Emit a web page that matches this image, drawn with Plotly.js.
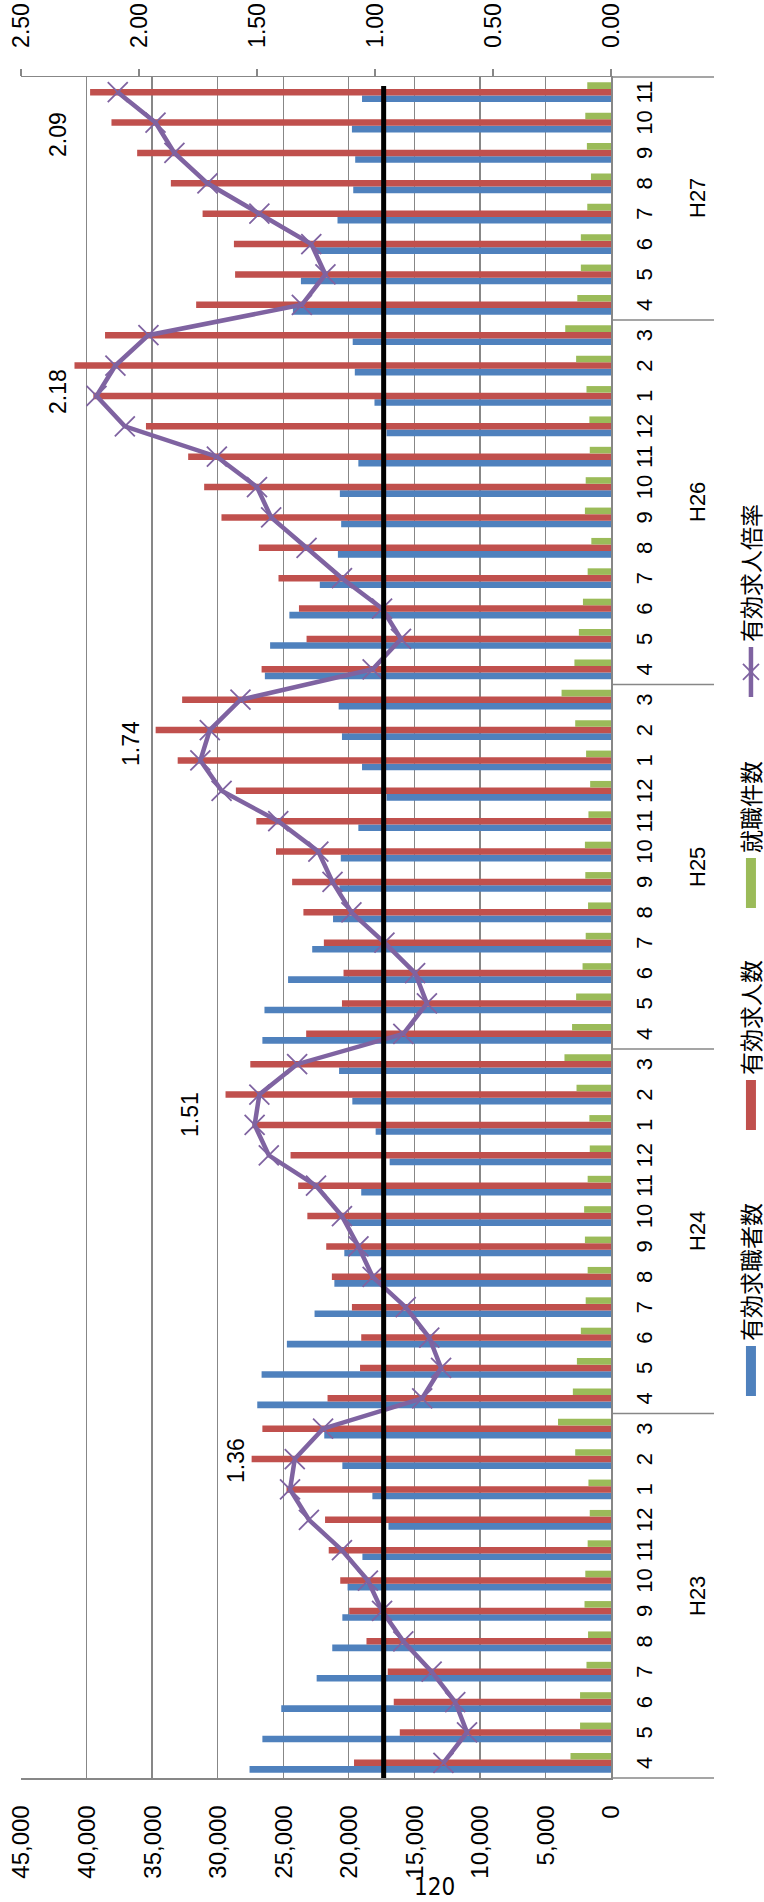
<!DOCTYPE html>
<html>
<head>
<meta charset="utf-8">
<script src="https://cdn.plot.ly/plotly-3.0.1.min.js"></script>
<style>
html,body{margin:0;padding:0;width:764px;height:1902px;overflow:hidden;background:#fff;}
#wrap{position:absolute;left:0;top:1902px;width:1902px;height:764px;transform-origin:0 0;transform:rotate(-90deg);}
#chart{width:1902px;height:764px;}
#page{position:absolute;left:414px;top:1875px;font-family:'Liberation Sans Narrow','DejaVu Sans Condensed',sans-serif;font-stretch:condensed;font-size:24px;line-height:24px;color:#000;}
</style>
</head>
<body>
<div id="wrap"><div id="chart"></div></div>
<div id="page">120</div>
<script>
// ---- data ----
const fiscalYears = [
  'H23','H23','H23','H23','H23','H23','H23','H23','H23','H23','H23','H23',
  'H24','H24','H24','H24','H24','H24','H24','H24','H24','H24','H24','H24',
  'H25','H25','H25','H25','H25','H25','H25','H25','H25','H25','H25','H25',
  'H26','H26','H26','H26','H26','H26','H26','H26','H26','H26','H26','H26',
  'H27','H27','H27','H27','H27','H27','H27','H27'
];
const months = [
  '4','5','6','7','8','9','10','11','12','1','2','3',
  '4','5','6','7','8','9','10','11','12','1','2','3',
  '4','5','6','7','8','9','10','11','12','1','2','3',
  '4','5','6','7','8','9','10','11','12','1','2','3',
  '4','5','6','7','8','9','10','11'
];
// 有効求職者数
const jobSeekers = [
  27570,26590,25150,22450,21260,20490,20090,18960,16970,18200,20490,21870,
  26980,26650,24720,22610,21100,20340,20190,19050,16880,17950,19730,20740,
  26590,26430,24630,22790,21200,20710,20610,19270,17120,18990,20520,20770,
  26400,26000,24530,22210,20830,20580,20680,19270,17120,18040,19540,19700,
  24260,23650,22540,20860,19660,19510,19760,18990
];
// 有効求人数
const jobOpenings = [
  19600,16110,16570,17030,18650,19970,20650,21530,21810,24750,27410,26590,
  21620,19140,19050,19760,21290,21720,23160,23860,24440,27350,29400,27510,
  23250,20520,20400,21900,23460,24320,25550,27050,28610,33050,34730,32710,
  26650,23220,23800,25360,26860,29710,31030,32250,35470,39480,40920,38590,
  31640,28670,28760,31150,33570,36140,38100,39730
];
// 就職件数
const placements = [
  3090,2360,2360,1870,1750,2020,1960,1780,1620,1720,2730,4040,
  2910,2600,2300,1930,1780,1990,2050,1780,1620,1650,2630,3550,
  2970,2660,2170,1930,1750,1960,1990,1720,1590,1900,2730,3770,
  2790,2450,2140,1780,1500,1990,1930,1620,1650,1870,2660,3490,
  2570,2300,2300,1810,1530,1840,1960,1810
];
// 有効求人倍率
const openingsRatio = [
  0.71,0.61,0.66,0.76,0.88,0.97,1.03,1.14,1.28,1.36,1.34,1.22,
  0.80,0.72,0.77,0.87,1.01,1.07,1.14,1.25,1.45,1.51,1.49,1.33,
  0.88,0.78,0.83,0.96,1.10,1.18,1.24,1.41,1.65,1.74,1.70,1.57,
  1.01,0.89,0.97,1.14,1.29,1.44,1.50,1.67,2.06,2.18,2.10,1.96,
  1.31,1.21,1.27,1.49,1.71,1.85,1.93,2.09
];
const seriesNames = ['有効求職者数','有効求人数','就職件数','有効求人倍率'];
const referenceLevel = [17340];

// ---- styling ----
const colors = ['#4F81BD','#C0504D','#9BBB59','#7F63A1'];
const gridGrey = '#878787';
const nCat = months.length;
const catKeys = fiscalYears.map((fy, i) => fy + ' ' + months[i]);
const toPaperX = idx => (idx + 0.5) / nCat;

const bar = (y, i) => ({
  type:'bar', x:catKeys, y:y, name:seriesNames[i],
  marker:{color:colors[i]}, showlegend:false, hoverinfo:'skip'
});
const legendSwatch = (i, lg) => ({
  type:'scatter', mode:'lines', x:[catKeys[0]], y:[null],
  name:seriesNames[i], line:{color:colors[i], width:15}, legend:lg, hoverinfo:'skip'
});

const traces = [
  bar(jobSeekers,0), bar(jobOpenings,1), bar(placements,2),
  {
    type:'scatter', mode:'lines+markers', x:catKeys, y:openingsRatio, yaxis:'y2',
    name:seriesNames[3], legend:'legend4', hoverinfo:'skip',
    line:{color:colors[3], width:4.5},
    marker:{symbol:'x-thin', size:20, color:colors[3], line:{color:colors[3], width:1.8}}
  },
  legendSwatch(0,'legend'), legendSwatch(1,'legend2'), legendSwatch(2,'legend3')
];

// fiscal-year groups
const yearList = [...new Set(fiscalYears)];
const yearFirst = yearList.map(yr => fiscalYears.indexOf(yr));
const yearLast = yearList.map(yr => fiscalYears.lastIndexOf(yr));

// peak label per fiscal year (annual max of 有効求人倍率)
const labelShift = [[0.15,0.23],[0.36,0.275],[0.56,0.295],[0.94,0.165],[-0.58,0.255]];
const peakNotes = yearList.map((yr, k) => {
  let best = yearFirst[k];
  for (let i = yearFirst[k]; i <= yearLast[k]; i++) if (openingsRatio[i] > openingsRatio[best]) best = i;
  return {
    xref:'paper', yref:'y2',
    x:toPaperX(best + labelShift[k][0]),
    y:openingsRatio[best] + labelShift[k][1],
    text:openingsRatio[best].toFixed(2), showarrow:false,
    font:{size:23, color:'#000'}
  };
});
const yearNotes = yearList.map((yr, k) => ({
  xref:'paper', yref:'paper',
  x:toPaperX((yearFirst[k] + yearLast[k]) / 2), y:-0.1458,
  xanchor:'center', yanchor:'middle',
  text:yr, showarrow:false, font:{size:22, color:'#000'}
}));
const dividerPos = [-0.5].concat(yearLast.map(i => i + 0.5));
const dividers = dividerPos.map(b => ({
  type:'line', xref:'paper', yref:'paper',
  x0:toPaperX(b), x1:toPaperX(b), y0:0, y1:-0.1746,
  line:{color:gridGrey, width:1.5}
}));

const legendBase = {
  orientation:'h', xanchor:'left', yanchor:'middle', y:-0.2373,
  font:{size:23, color:'#000'}, bgcolor:'rgba(0,0,0,0)', itemwidth:50,
  itemclick:false, itemdoubleclick:false
};

const layout = {
  width:1902, height:764,
  margin:{l:124, r:77, t:21, b:153, pad:0, autoexpand:false},
  paper_bgcolor:'#ffffff', plot_bgcolor:'rgba(0,0,0,0)',
  font:{family:'"Liberation Sans", "Noto Sans CJK JP", sans-serif', size:22, color:'#000'},
  barmode:'group', bargap:0.35, bargroupgap:0,
  xaxis:{
    type:'category', range:[-0.5, nCat - 0.5], autorange:false,
    tickmode:'array', tickvals:catKeys, ticktext:months,
    showline:true, linecolor:gridGrey, linewidth:1.5,
    ticks:'', showgrid:false, tickangle:0, tickfont:{size:22},
    ticklabelstandoff:13, zeroline:false, automargin:false
  },
  yaxis:{
    range:[0,45000], dtick:5000, tickformat:',d',
    showgrid:true, gridcolor:gridGrey, gridwidth:1.25,
    showline:true, linecolor:gridGrey, linewidth:1.5,
    ticks:'', ticklabelstandoff:21, tickfont:{size:24}, zeroline:false, automargin:false
  },
  yaxis2:{
    overlaying:'y', side:'right', range:[0,2.5], dtick:0.5, tickformat:'.2f',
    showgrid:false, showline:true, linecolor:gridGrey, linewidth:1.5,
    ticks:'outside', ticklen:7, tickcolor:gridGrey, tickwidth:1.5,
    ticklabelstandoff:16, tickfont:{size:23}, zeroline:false, automargin:false
  },
  shapes:[{
    type:'line', xref:'paper', yref:'y', x0:0, x1:0.9947,
    y0:referenceLevel[0], y1:referenceLevel[0],
    line:{color:'#000', width:5}, layer:'above'
  }].concat(dividers),
  annotations:peakNotes.concat(yearNotes),
  legend:Object.assign({}, legendBase, {x:0.2216}),
  legend2:Object.assign({}, legendBase, {x:0.378}),
  legend3:Object.assign({}, legendBase, {x:0.5085}),
  legend4:Object.assign({}, legendBase, {x:0.6326})
};

Plotly.newPlot('chart', traces, layout, {staticPlot:true, displayModeBar:false});
</script>
</body>
</html>
